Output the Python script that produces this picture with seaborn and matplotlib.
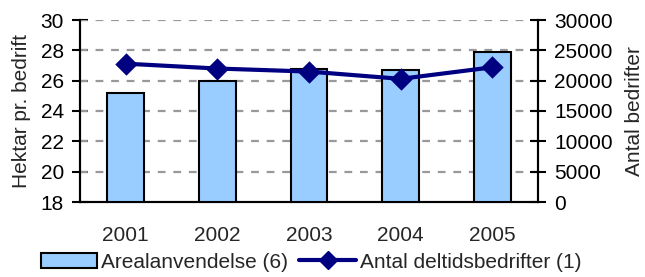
import matplotlib
matplotlib.use("Agg")
import matplotlib.pyplot as plt
import seaborn as sns
import pandas as pd
import numpy as np
from matplotlib.patches import Patch
from matplotlib.lines import Line2D

years = ["2001", "2002", "2003", "2004", "2005"]
hektar = [25.2, 26.0, 26.8, 26.7, 27.9]
antal = [22800, 22000, 21500, 20300, 22200]
bar_label = "Arealanvendelse (6)"
line_label = "Antal deltidsbedrifter (1)"
left_ticks = [18, 20, 22, 24, 26, 28, 30]
right_ticks = [0, 5000, 10000, 15000, 20000, 25000, 30000]

sns.set_style("white")
plt.rcParams["font.family"] = ["Liberation Sans", "DejaVu Sans"]
plt.rcParams["font.size"] = 15

df = pd.DataFrame({"year": years, "hektar": hektar, "antal": antal})

fig = plt.figure(figsize=(6.45, 2.77), dpi=100)
ax = fig.add_axes([80/645, 1 - 202/277, (538-80)/645, (202-20)/277])

bar_color = "#99CCFF"
line_color = "#000080"

sns.barplot(data=df, x="year", y="hektar", ax=ax, color=bar_color,
            edgecolor="black", linewidth=1.5, width=0.4, saturation=1, zorder=3)
ax.set_ylim(18, 30)
ax.set_xlim(-0.5, 4.5)
ax.set_yticks(left_ticks)
ax.set_xlabel("")
ax.set_ylabel("Hektar pr. bedrift", labelpad=7)
for y in left_ticks[1:]:
    ax.axhline(y, color="#999999", linestyle=(0, (3.5, 3.5)), linewidth=1.6, zorder=1)

ax2 = ax.twinx()
sns.pointplot(data=df, x="year", y="antal", ax=ax2, color=line_color,
              markers="D", markersize=9.5, linewidth=3)
ax2.set_ylim(0, 30000)
ax2.set_yticks(right_ticks)
ax2.set_ylabel("Antal bedrifter", labelpad=9)
ax2.set_xlabel("")
ax.set_xlim(-0.5, 4.5)

for a in (ax, ax2):
    for s in a.spines.values():
        s.set_color("black")
        s.set_linewidth(1.5)
    a.spines["top"].set_visible(False)

ax.tick_params(axis="y", direction="inout", length=11, width=1.5, pad=6, colors="black")
ax2.tick_params(axis="y", direction="inout", length=11, width=1.5, pad=6, colors="black")
ax.set_xticks(range(len(years)))
ax.set_xticklabels(years)
ax.set_xticks(np.arange(-0.5, len(years), 1.0), minor=True)
ax.tick_params(axis="x", which="major", length=0, pad=17)
ax.tick_params(axis="x", which="minor", direction="out", length=6, width=1.5, colors="black")
ax2.tick_params(axis="x", length=0)

handles = [Patch(facecolor=bar_color, edgecolor="black", linewidth=1.5),
           Line2D([0], [0], color=line_color, lw=3, marker="D", markersize=9.5)]
fig.legend(handles, [bar_label, line_label], loc="center",
           bbox_to_anchor=(311/645, 1 - 262/277), ncol=2, frameon=False,
           handlelength=2.7, handleheight=0.75, handletextpad=0.2, columnspacing=0.55,
           borderpad=0, borderaxespad=0)

fig.savefig("out.png", dpi=100)
